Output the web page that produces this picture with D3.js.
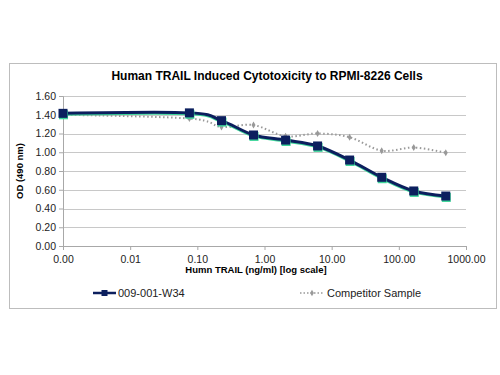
<!DOCTYPE html>
<html>
<head>
<meta charset="utf-8">
<script src="https://cdn.jsdelivr.net/npm/d3@7"></script>
<style>
  body { margin: 0; background: #fff; }
  svg { font-family: "Liberation Sans", Arial, sans-serif; }
</style>
</head>
<body>
<svg id="chart" width="500" height="375"></svg>
<script>
// TRAIL concentrations (ng/ml); the "0" well is plotted at 0.001 on the log axis
var concentrations = [0.001, 0.0762, 0.229, 0.686, 2.06, 6.17, 18.5, 55.6, 166.7, 500];
var w34Values = [1.415, 1.42, 1.337, 1.184, 1.13, 1.067, 0.917, 0.733, 0.587, 0.533];
var w34Shadow = [1.405, 1.41, 1.327, 1.174, 1.12, 1.057, 0.907, 0.723, 0.577, 0.523];
var competitorValues = [1.40, 1.36, 1.27, 1.29, 1.17, 1.20, 1.16, 1.017, 1.05, 0.995];
var xTicks = [0.001, 0.01, 0.1, 1, 10, 100, 1000];
var yTicks = [0, 0.2, 0.4, 0.6, 0.8, 1.0, 1.2, 1.4, 1.6];
var seriesNames = ["009-001-W34", "Competitor Sample"];

var margin = {top: 96, right: 34, bottom: 129, left: 63},
    width = 500 - margin.left - margin.right,
    height = 375 - margin.top - margin.bottom;

var svg = d3.select("#chart");

// outer chart border
svg.append("rect")
    .attr("x", 9.5).attr("y", 63.5)
    .attr("width", 487).attr("height", 245)
    .attr("fill", "#fff").attr("stroke", "#bdbdbd");

svg.append("text")
    .attr("x", 267).attr("y", 80)
    .attr("text-anchor", "middle")
    .attr("font-size", 12).attr("font-weight", "bold")
    .text("Human TRAIL Induced Cytotoxicity to RPMI-8226 Cells");

var g = svg.append("g")
    .attr("transform", `translate(${margin.left}, ${margin.top})`);

var x = d3.scaleLog().domain([0.001, 1000]).range([0, width]);
var y = d3.scaleLinear().domain([0, 1.6]).range([height, 0]);

// gridlines
g.append("g")
    .selectAll("line")
    .data(yTicks.filter(d => d > 0))
    .enter().append("line")
    .attr("x1", 0).attr("x2", width)
    .attr("y1", d => Math.round(y(d)) + 0.5).attr("y2", d => Math.round(y(d)) + 0.5)
    .attr("stroke", "#c8c8c8");

var yAxis = g.append("g")
    .call(d3.axisLeft(y).tickValues(yTicks).tickFormat(d3.format(".2f")).tickSize(4).tickPadding(3));
var xAxis = g.append("g")
    .attr("transform", `translate(0, ${height})`)
    .call(d3.axisBottom(x).tickValues(xTicks).tickFormat(d3.format(".2f")).tickSize(4).tickPadding(6));
[yAxis, xAxis].forEach(function (a) {
    a.selectAll("path, line").attr("stroke", "#a8a8a8");
    a.selectAll("text").attr("font-size", 10.5).attr("fill", "#222")
        .attr("font-family", "Liberation Sans, Arial, sans-serif");
});

g.append("text")
    .attr("transform", `translate(-40, ${height / 2}) rotate(-90)`)
    .attr("text-anchor", "middle")
    .attr("font-size", 9.5).attr("font-weight", "bold")
    .text("OD (490 nm)");

g.append("text")
    .attr("x", 193).attr("y", height + 27)
    .attr("text-anchor", "middle")
    .attr("font-size", 9.5).attr("font-weight", "bold")
    .text("Humn TRAIL (ng/ml) [log scale]");

var line = d3.line()
    .x(d => x(d[0]))
    .y(d => y(d[1]))
    .curve(d3.curveCatmullRom.alpha(0));

var zip = vals => concentrations.map((c, i) => [c, vals[i]]);

// competitor: grey dotted
g.append("path")
    .attr("d", line(zip(competitorValues)))
    .attr("fill", "none").attr("stroke", "#999")
    .attr("stroke-width", 2).attr("stroke-dasharray", "1.5,2.5");
g.append("g").selectAll("path")
    .data(zip(competitorValues))
    .enter().append("path")
    .attr("transform", d => `translate(${x(d[0])}, ${y(d[1])})`)
    .attr("d", d3.symbol(d3.symbolDiamond, 14))
    .attr("fill", "#999");

// W34: green shadow + navy line + squares
g.append("path")
    .attr("d", line(zip(w34Shadow)))
    .attr("fill", "none").attr("stroke", "#3ed69a").attr("stroke-width", 3);
g.append("path")
    .attr("d", line(zip(w34Values)))
    .attr("fill", "none").attr("stroke", "#0c1f5e").attr("stroke-width", 3);
g.append("g").selectAll("rect")
    .data(zip(w34Shadow))
    .enter().append("rect")
    .attr("x", d => x(d[0]) - 4).attr("y", d => y(d[1]) - 4)
    .attr("width", 9).attr("height", 9)
    .attr("fill", "#3ed69a");
g.append("g").selectAll("rect")
    .data(zip(w34Values))
    .enter().append("rect")
    .attr("x", d => x(d[0]) - 4.5).attr("y", d => y(d[1]) - 4.5)
    .attr("width", 9).attr("height", 9)
    .attr("fill", "#0c1f5e");

// legend
var leg = svg.append("g").attr("font-size", 11);
leg.append("line").attr("x1", 93).attr("x2", 116).attr("y1", 293).attr("y2", 293)
    .attr("stroke", "#0c1f5e").attr("stroke-width", 2.5);
leg.append("rect").attr("x", 101.5).attr("y", 290).attr("width", 6).attr("height", 6).attr("fill", "#0c1f5e");
leg.append("text").attr("x", 118).attr("y", 297).attr("fill", "#222").text(seriesNames[0]);
leg.append("line").attr("x1", 300).attr("x2", 324).attr("y1", 293).attr("y2", 293)
    .attr("stroke", "#999").attr("stroke-width", 1.5).attr("stroke-dasharray", "1.5,2");
leg.append("path").attr("transform", "translate(312, 293)")
    .attr("d", d3.symbol(d3.symbolDiamond, 12)).attr("fill", "#999");
leg.append("text").attr("x", 327).attr("y", 297).attr("fill", "#222").text(seriesNames[1]);
</script>
</body>
</html>
